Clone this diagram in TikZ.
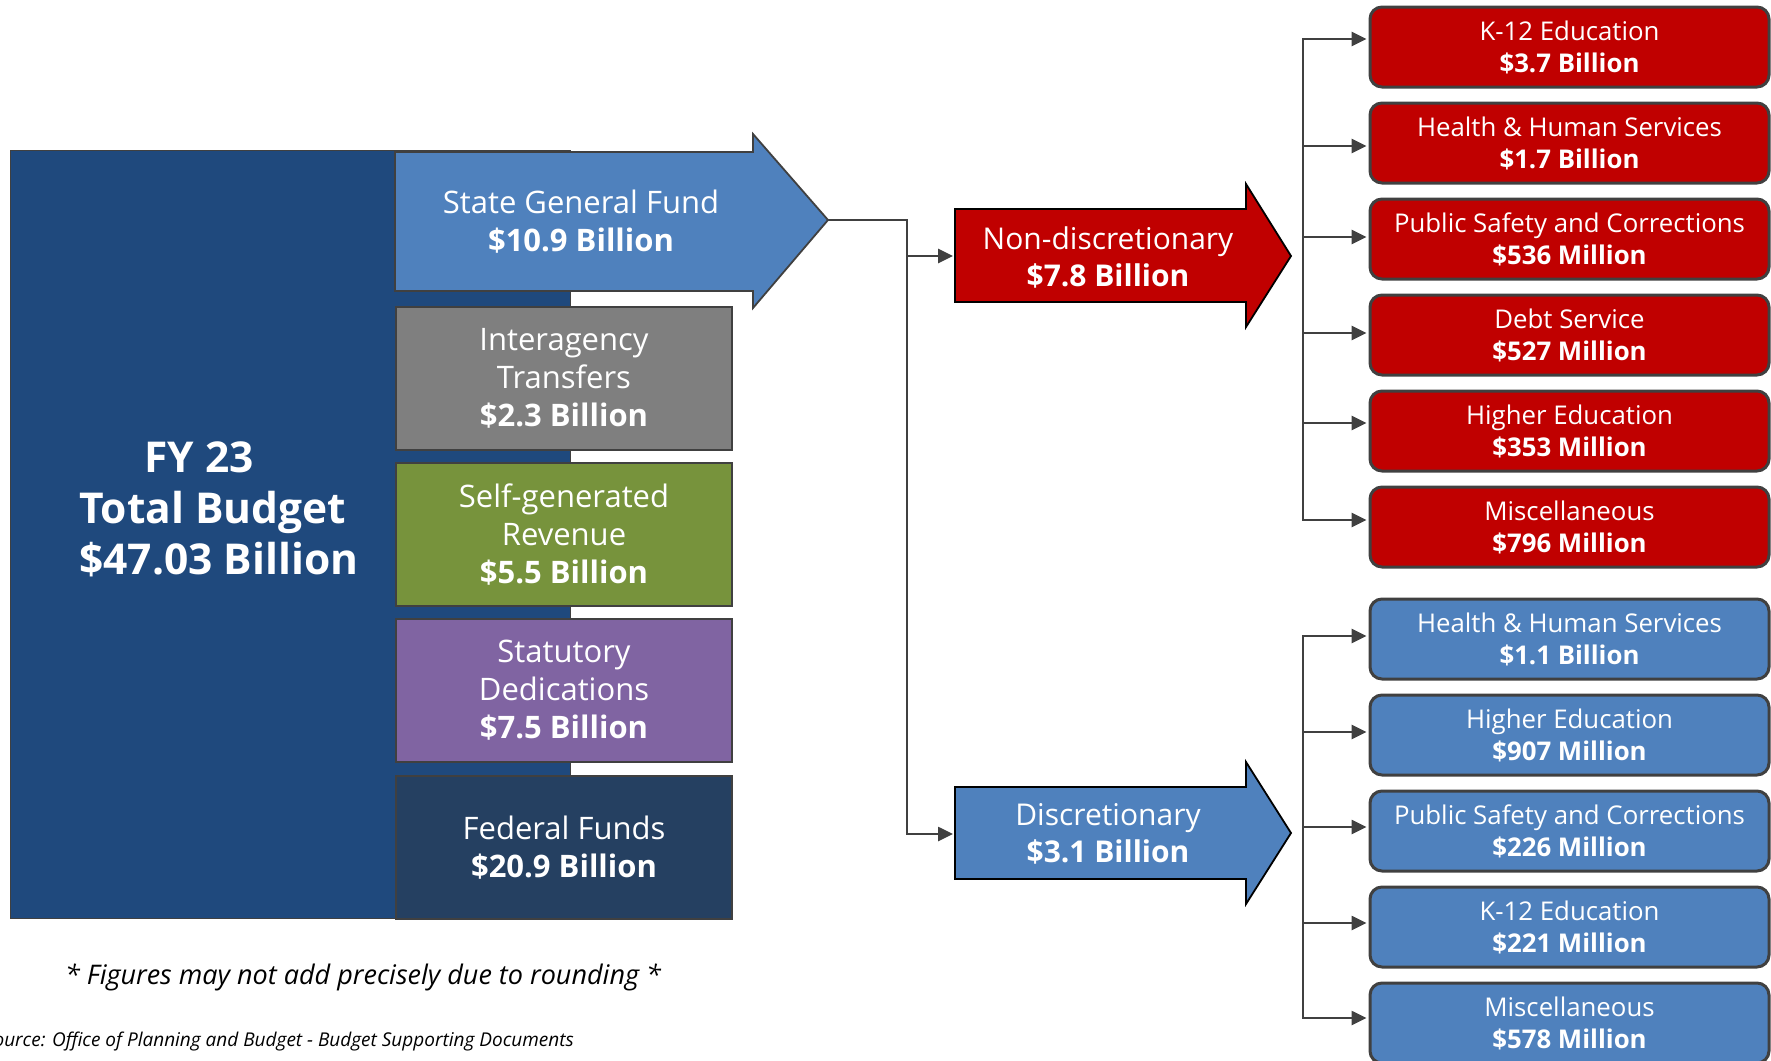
\documentclass[tikz,border=0pt]{standalone}
\usepackage{fontspec}
\setmainfont{Open Sans}
\usetikzlibrary{arrows.meta}
\definecolor{totalblue}{HTML}{1F497D}
\definecolor{sgfblue}{HTML}{4F81BD}
\definecolor{iagray}{HTML}{7F7F7F}
\definecolor{sgrgreen}{HTML}{77933C}
\definecolor{statpurple}{HTML}{8064A2}
\definecolor{fedblue}{HTML}{254061}
\definecolor{ndred}{HTML}{C00000}
\definecolor{edgegray}{HTML}{404040}
\tikzset{
  srcbox/.style={draw=edgegray, line width=2pt, anchor=north west, inner sep=0pt,
    minimum width=336pt, minimum height=143pt, text=white, align=center,
    font=\fontsize{31}{38}\selectfont},
  bigarrow/.style={draw=black, line width=1.8pt},
  bigtext/.style={text=white, align=center, inner sep=0pt},
  destbox/.style={draw=edgegray, line width=3pt, rounded corners=12pt, inner sep=0pt,
    minimum width=399pt, minimum height=80pt, text=white, align=center,
    font=\fontsize{25.8}{32}\selectfont},
  redbox/.style={destbox, fill=ndred},
  bluebox/.style={destbox, fill=sgfblue},
  conn/.style={draw=edgegray, line width=2.6pt},
  connarrow/.style={conn, -{Triangle[length=15pt,width=14pt]}, shorten >=2pt},
}
\begin{document}
\begin{tikzpicture}[x=1pt,y=-1pt]
\useasboundingbox (0,0) rectangle (1771,1060);
\begin{scope}
\clip (0,0) rectangle (1771,1060);

% total budget block
\node[draw=edgegray, line width=1pt, fill=totalblue, anchor=north west, inner sep=0pt,
  minimum width=560pt, minimum height=768pt] (total) at (10,150) {};
\node[text=white, align=left, anchor=west, inner sep=0pt,
  font=\fontsize{42.5}{51}\selectfont\bfseries] (totaltext) at (79,509)
  {\hspace*{65pt}FY 23\\Total Budget\\\$47.03 Billion};

% state general fund arrow
\path[bigarrow, fill=sgfblue, draw=edgegray] (395,152) -- (753,152) -- (753,134) -- (828,220)
  -- (753,308) -- (753,291) -- (395,291) -- cycle;
\coordinate (sgftip) at (828,220);
\node[bigtext, font=\fontsize{31}{38}\selectfont] (sgf) at (581,222)
  {State General Fund\\\textbf{\$10.9 Billion}};

% other sources
\node[srcbox, fill=iagray] (ia) at (395,306) {Interagency\\Transfers\\\textbf{\$2.3 Billion}};
\node[srcbox, fill=sgrgreen] (sgr) at (395,462) {Self-generated\\Revenue\\\textbf{\$5.5 Billion}};
\node[srcbox, fill=statpurple] (stat) at (395,618) {Statutory\\Dedications\\\textbf{\$7.5 Billion}};
\node[srcbox, fill=fedblue] (fed) at (395,775) {Federal Funds\\\textbf{\$20.9 Billion}};

% non-discretionary arrow
\path[bigarrow, fill=ndred] (955,209) -- (1246,209) -- (1246,184) -- (1291,256)
  -- (1246,327) -- (1246,302) -- (955,302) -- cycle;
\coordinate (ndtail) at (955,256);
\coordinate (ndbus) at (1303,256);
\node[bigtext, font=\fontsize{30}{37}\selectfont] (nd) at (1108,257)
  {Non-discretionary\\\textbf{\$7.8 Billion}};

% discretionary arrow
\path[bigarrow, fill=sgfblue] (955,787) -- (1246,787) -- (1246,762) -- (1291,833)
  -- (1246,904) -- (1246,879) -- (955,879) -- cycle;
\coordinate (dtail) at (955,834);
\coordinate (dbus) at (1303,833);
\node[bigtext, font=\fontsize{30}{37}\selectfont] (disc) at (1108,834)
  {Discretionary\\\textbf{\$3.1 Billion}};

% destination boxes: non-discretionary
\node[redbox] (r1) at (1569.5,47) {K-12 Education\\\textbf{\$3.7 Billion}};
\node[redbox] (r2) at (1569.5,143) {Health \& Human Services\\\textbf{\$1.7 Billion}};
\node[redbox] (r3) at (1569.5,239) {Public Safety and Corrections\\\textbf{\$536 Million}};
\node[redbox] (r4) at (1569.5,335) {Debt Service\\\textbf{\$527 Million}};
\node[redbox] (r5) at (1569.5,431) {Higher Education\\\textbf{\$353 Million}};
\node[redbox] (r6) at (1569.5,527) {Miscellaneous\\\textbf{\$796 Million}};

% destination boxes: discretionary
\node[bluebox] (b1) at (1569.5,639) {Health \& Human Services\\\textbf{\$1.1 Billion}};
\node[bluebox] (b2) at (1569.5,735) {Higher Education\\\textbf{\$907 Million}};
\node[bluebox] (b3) at (1569.5,831) {Public Safety and Corrections\\\textbf{\$226 Million}};
\node[bluebox] (b4) at (1569.5,927) {K-12 Education\\\textbf{\$221 Million}};
\node[bluebox] (b5) at (1569.5,1023) {Miscellaneous\\\textbf{\$578 Million}};

% connectors
\draw[conn] (sgftip) -- ++(79,0);
\draw[connarrow] (sgftip) -- ++(79,0) |- (ndtail);
\draw[connarrow] (sgftip) -- ++(79,0) |- (dtail);
\foreach \n/\s in {r1/8,r2/-3,r3/2,r4/2,r5/8,r6/7}
  \draw[connarrow] (ndbus) |- ([yshift=\s pt]\n.west);
\foreach \n/\s in {b1/3,b2/3,b3/4,b4/4,b5/5}
  \draw[connarrow] (dbus) |- ([yshift=\s pt]\n.west);

% notes
\node[font=\fontsize{27}{32}\selectfont\itshape, text=black] (note) at (363,977)
  {* Figures may not add precisely due to rounding *};
\node[font=\fontsize{19}{23}\selectfont\itshape, text=black, anchor=east, inner sep=0pt] (source) at (574,1041)
  {Source: Office of Planning and Budget - Budget Supporting Documents};
\end{scope}
\end{tikzpicture}
\end{document}
